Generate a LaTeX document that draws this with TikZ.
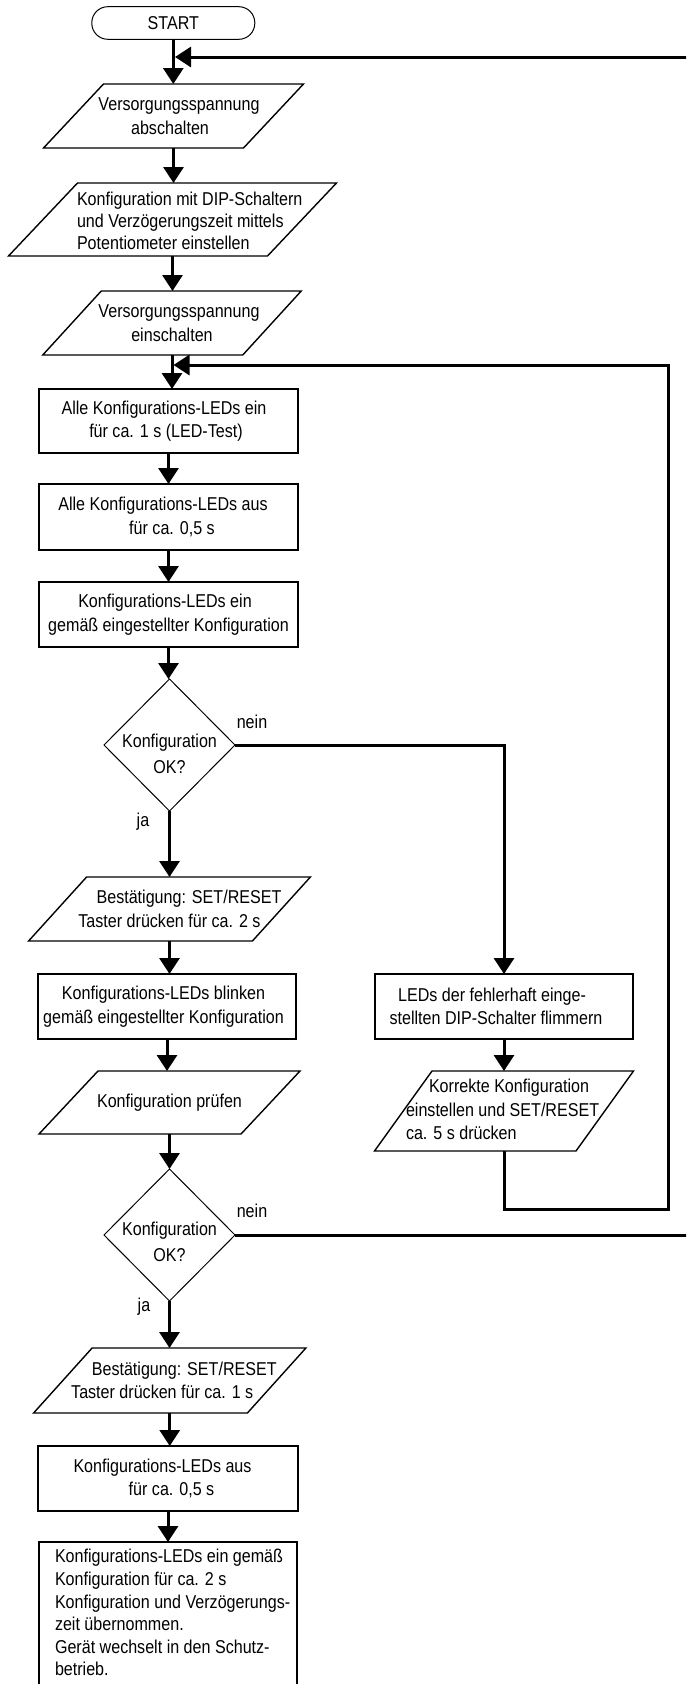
\documentclass[tikz,border=0pt]{standalone}
\usepackage{fontspec}
\setmainfont{Liberation Sans}[FakeStretch=0.865]
\usetikzlibrary{shapes.geometric,arrows.meta}
\newcommand\gapw[1]{\rule{#1}{0pt}}

\begin{document}
\begin{tikzpicture}[x=1pt,y=-1pt,
  every node/.style={font=\fontsize{18.6}{23.5}\selectfont, inner sep=0pt, outer sep=0pt},
  terminal/.style={draw, line width=1pt, rounded corners=16pt, minimum width=163pt, minimum height=32.6pt},
  procbox/.style={draw, line width=2.5pt, align=center, minimum width=259pt, minimum height=65pt},
  iobox/.style={align=center, minimum height=64pt},
  decision/.style={draw, diamond, line width=1pt, minimum width=131pt, minimum height=132pt},
  dtext/.style={align=center, font=\fontsize{18.6}{26}\selectfont},
  iobord/.style={line width=1.4pt, line join=miter},
  flow/.style={line width=3pt, -{Triangle[length=16pt,width=20pt]}},
]
\fill[white] (0,0) rectangle (686,1684);
\useasboundingbox (0,0) rectangle (686,1684);
\clip (0,0) rectangle (686,1684);

% main column
\node[terminal] (start) at (173.3,23) {START};
\node[iobox, minimum width=200pt] (p1) at (173.5,116) {\gapw{11pt}Versorgungsspannung\\abschalten\gapw{7pt}};
\node[iobox, minimum width=259pt, minimum height=73pt] (p2) at (172.5,219.5) {};
\node[align=left, anchor=west, font=\fontsize{18.6}{22}\selectfont] (p2t) at (77,221)
  {Konfiguration mit DIP-Schaltern\\und Verzögerungszeit mittels\\Potentiometer einstellen};
\node[iobox, minimum width=200pt] (p3) at (172,323) {\gapw{14pt}Versorgungsspannung\\einschalten};
\node[procbox, minimum height=64pt] (r1) at (168.5,421) {Alle Konfigurations-LEDs ein\gapw{9pt}\\für ca. 1 s (LED-Test)\gapw{5pt}};
\node[procbox, minimum height=66pt] (r2) at (168.5,517) {Alle Konfigurations-LEDs aus\gapw{11pt}\\\gapw{7pt}für ca. 0,5 s};
\node[procbox] (r3) at (168.5,614.5) {Konfigurations-LEDs ein\gapw{7pt}\\gemäß eingestellter Konfiguration};

\node[decision] (d1) at (169.5,745) {};
\node[dtext] (d1t) at (169.5,754) {Konfiguration\\OK?};
\node (nein1) at (252,722) {nein};
\node (ja1) at (143,822) {ja};

\node[iobox, minimum width=200pt] (p4) at (169.5,909) {\gapw{39pt}Bestätigung: SET/RESET\\Taster drücken für ca. 2 s};
\node[procbox, minimum width=258pt] (r4) at (167,1006.5) {Konfigurations-LEDs blinken\gapw{7pt}\\gemäß eingestellter Konfiguration\gapw{7pt}};
\node[iobox, minimum width=202pt, minimum height=63pt] (p5) at (169.5,1102.5) {Konfiguration prüfen};

\node[decision] (d2) at (169.5,1235) {};
\node[dtext] (d2t) at (169.5,1242) {Konfiguration\\OK?};
\node (nein2) at (252,1211) {nein};
\node (ja2) at (144,1307) {ja};

\node[iobox, minimum width=201.5pt, minimum height=65pt] (p7) at (169.75,1380.5) {\gapw{29pt}Bestätigung: SET/RESET\\Taster drücken für ca. 1 s\gapw{15pt}};
\node[procbox, minimum width=260pt] (r6) at (168,1478.5) {Konfigurations-LEDs aus\gapw{11pt}\\\gapw{7pt}für ca. 0,5 s};
\node[procbox, minimum width=258pt, minimum height=170pt, anchor=north] (r7) at (168,1542) {};
\node[align=left, anchor=north west, font=\fontsize{18.6}{22.6}\selectfont] (r7t) at (55,1549.5)
  {Konfigurations-LEDs ein gemäß\\Konfiguration für ca. 2 s\\Konfiguration und Verzögerungs-\\zeit übernommen.\\Gerät wechselt in den Schutz-\\betrieb.};

% error branch
\node[procbox, minimum width=258pt] (r5) at (504,1006.5) {LEDs der fehlerhaft einge-\gapw{24pt}\\stellten DIP-Schalter flimmern\gapw{16pt}};
\node[iobox, minimum width=201.5pt, minimum height=80pt] (p6) at (504,1111) {};
\node[align=left, anchor=west] (p6t) at (406,1109.5)
  {\gapw{23pt}Korrekte Konfiguration\\einstellen und SET/RESET\\ca. 5 s drücken};

% parallelogram outlines around the input/output nodes
\foreach \n/\s in {p1/60,p2/69,p3/58.5,p4/58,p5/59,p6/57.5,p7/58.5}
  \draw[iobord] ([xshift=-\s*0.5pt]\n.south west) -- ([xshift=\s*0.5pt]\n.north west)
     -- ([xshift=\s*0.5pt]\n.north east) -- ([xshift=-\s*0.5pt]\n.south east) -- cycle;

% loop points
\coordinate (loopB) at (668,1209);
\coordinate (loopT) at (668,365);
\coordinate (entry2) at (173.5,365);
\coordinate (exitB) at (700,1235);
\coordinate (exitT) at (700,57);
\coordinate (entry1) at (175,57);

% connectors
\draw[flow] (start.south) -- (start.south |- p1.north);
\draw[flow] (p1.south) -- (p1.south |- p2.north);
\draw[flow] (p2.south) -- (p2.south |- p3.north);
\draw[flow] (p3.south) -- (p3.south |- r1.north);
\draw[flow] (r1.south) -- (r1.south |- r2.north);
\draw[flow] (r2.south) -- (r2.south |- r3.north);
\draw[flow] (r3.south) -- (r3.south |- d1.north);
\draw[flow] (d1.south) -- (d1.south |- p4.north);
\draw[flow] (p4.south) -- (p4.south |- r4.north);
\draw[flow] (r4.south) -- (r4.south |- p5.north);
\draw[flow] (p5.south) -- (p5.south |- d2.north);
\draw[flow] (d2.south) -- (d2.south |- p7.north);
\draw[flow] (p7.south) -- (p7.south |- r6.north);
\draw[flow] (r6.south) -- (r6.south |- r7.north);
\draw[flow] (d1.east) -| (r5.north);
\draw[flow] (r5.south) -- (r5.south |- p6.north);
\draw[flow] (p6.south) |- (loopB) -- (loopT) -- (entry2);
\draw[flow] (d2.east) -- (exitB) -- (exitT) -- (entry1);
\end{tikzpicture}
\end{document}
